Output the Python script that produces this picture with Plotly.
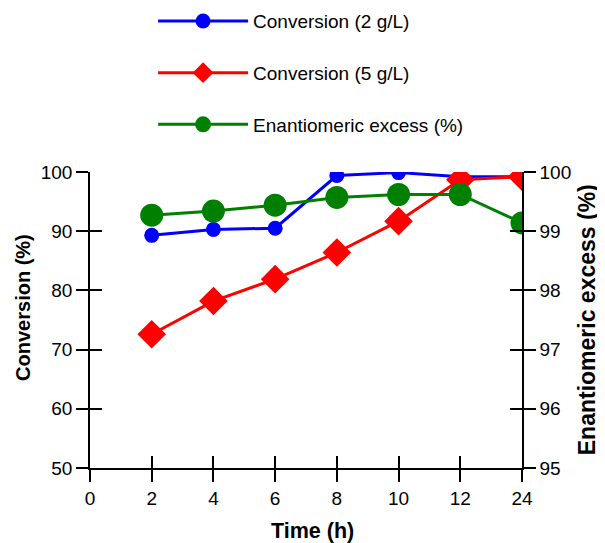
import plotly.graph_objects as go

time_labels = ["0", "2", "4", "6", "8", "10", "12", "24"]
sample_times = ["2", "4", "6", "8", "10", "12", "24"]
conv_2gL = [89.3, 90.3, 90.5, 99.4, 99.9, 99.2, 99.2]
conv_5gL = [72.6, 78.2, 81.9, 86.4, 91.7, 98.7, 99.2]
ee_pct = [99.27, 99.34, 99.44, 99.57, 99.62, 99.62, 99.14]
left_ticks = [50, 60, 70, 80, 90, 100]
right_ticks = [95, 96, 97, 98, 99, 100]

FONT = "Liberation Sans, Arial, sans-serif"
fig = go.Figure()
fig.add_trace(go.Scatter(x=sample_times, y=conv_2gL, name="Conversion (2 g/L)",
                         mode="lines+markers", legendgroup="a",
                         line=dict(color="#0000FF", width=3),
                         marker=dict(symbol="circle", size=15, color="#0000FF")))
fig.add_trace(go.Scatter(x=sample_times, y=conv_5gL, name="Conversion (5 g/L)",
                         mode="lines+markers", legendgroup="b",
                         line=dict(color="#FF0000", width=3),
                         marker=dict(symbol="diamond", size=22, color="#FF0000")))
fig.add_trace(go.Scatter(x=sample_times, y=ee_pct, name="Enantiomeric excess (%)",
                         mode="lines+markers", legendgroup="c", yaxis="y2",
                         line=dict(color="#008000", width=3),
                         marker=dict(symbol="circle", size=23, color="#008000")))
# empty helper traces so the overlay axes (inner half of crossing ticks) are drawn
fig.add_trace(go.Scatter(x=[], y=[], xaxis="x2", yaxis="y3", showlegend=False, hoverinfo="skip"))
fig.add_trace(go.Scatter(x=[], y=[], xaxis="x2", yaxis="y4", showlegend=False, hoverinfo="skip"))

base = dict(showline=True, linecolor="black", linewidth=1.5, showgrid=False,
            zeroline=False, tickcolor="black", tickwidth=1.5, ticklen=12,
            automargin=False)
tf = dict(tickfont=dict(family=FONT, size=19, color="black"))

fig.update_layout(
    width=605, height=543,
    margin=dict(l=82, r=91, t=164, b=83, autoexpand=False),
    plot_bgcolor="white", paper_bgcolor="white",
    font=dict(family=FONT, size=19, color="black"),
    showlegend=True,
    legend=dict(x=0.146, y=1.574, xanchor="left", yanchor="top",
                bgcolor="rgba(0,0,0,0)", itemwidth=90, tracegroupgap=24,
                traceorder="grouped",
                font=dict(family=FONT, size=19, color="black")),
    xaxis=dict(type="category", categoryorder="array", categoryarray=time_labels,
               tickvals=time_labels, range=[0, 7], ticks="outside", tickangle=0, **base, **tf),
    xaxis2=dict(type="category", categoryorder="array", categoryarray=time_labels,
                tickvals=time_labels, range=[0, 7], overlaying="x", ticks="inside",
                showticklabels=False, **base),
    yaxis=dict(range=[50, 100], tickvals=left_ticks, ticks="outside", **base, **tf),
    yaxis2=dict(range=[95, 100], tickvals=right_ticks, ticks="outside", side="right",
                overlaying="y", **base, **tf),
    yaxis3=dict(range=[50, 100], tickvals=left_ticks, ticks="inside", overlaying="y",
                side="left", showticklabels=False, **base),
    yaxis4=dict(range=[95, 100], tickvals=right_ticks, ticks="inside", overlaying="y",
                side="right", showticklabels=False, **base),
    annotations=[
        dict(text="<b>Time (h)</b>", xref="paper", yref="paper", x=0.516, y=-0.212,
             xanchor="center", yanchor="middle", showarrow=False,
             font=dict(family=FONT, size=21.5, color="black")),
        dict(text="<b>Conversion (%)</b>", xref="paper", yref="paper", x=-0.155, y=0.541,
             xanchor="center", yanchor="middle", showarrow=False, textangle=-90,
             font=dict(family=FONT, size=20, color="black")),
        dict(text="<b>Enantiomeric excess (%)</b>", xref="paper", yref="paper", x=1.151, y=0.5,
             xanchor="center", yanchor="middle", showarrow=False, textangle=-90,
             font=dict(family=FONT, size=23, color="black")),
    ],
)
fig.write_html("out.html")
